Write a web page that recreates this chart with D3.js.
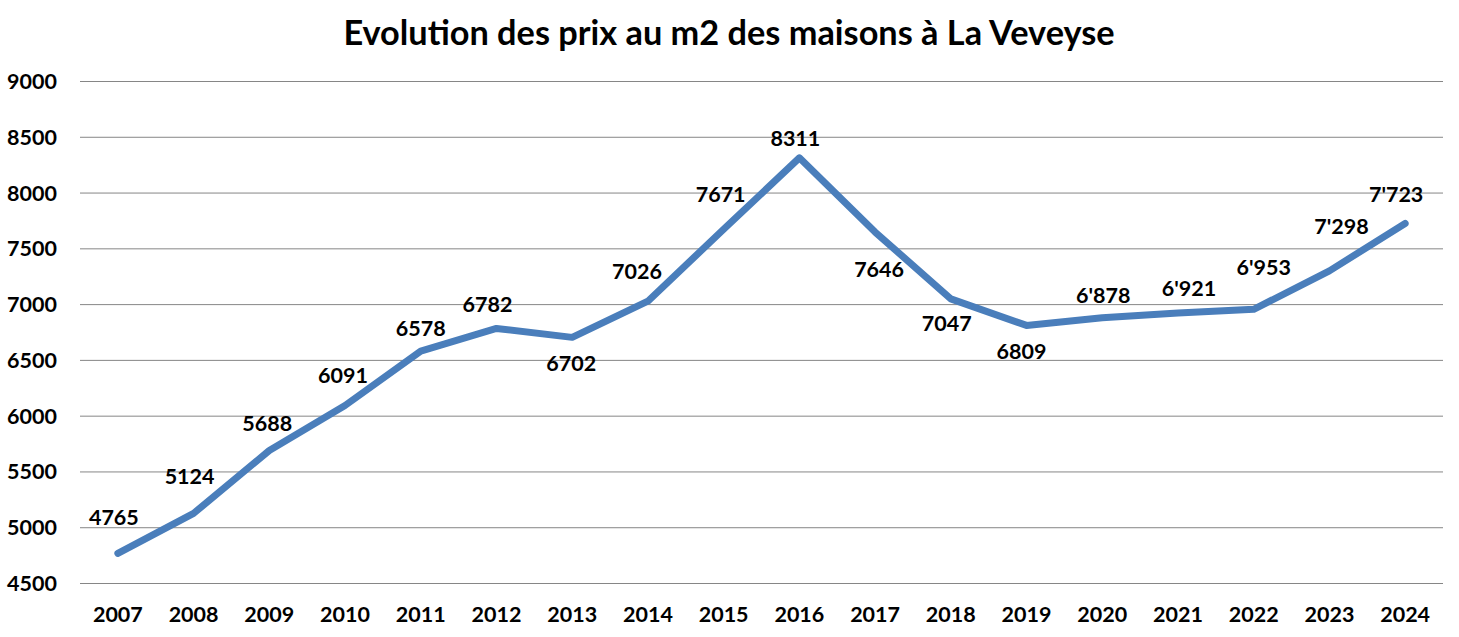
<!DOCTYPE html>
<html><head><meta charset="utf-8">
<script src="https://cdn.jsdelivr.net/npm/d3@7"></script>
<style>
html,body{margin:0;padding:0;background:#fff;}
svg text{font-family:Lato,"Open Sans",sans-serif;font-weight:bold;fill:#000;}
</style></head>
<body>
<svg id="chart" width="1459" height="637"></svg>
<script>
const years = ["2007","2008","2009","2010","2011","2012","2013","2014","2015","2016","2017","2018","2019","2020","2021","2022","2023","2024"];
const prices = [4765,5124,5688,6091,6578,6782,6702,7026,7671,8311,7646,7047,6809,6878,6921,6953,7298,7723];
const priceLabels = ["4765","5124","5688","6091","6578","6782","6702","7026","7671","8311","7646","7047","6809","6'878","6'921","6'953","7'298","7'723"];
const yTicks = [4500,5000,5500,6000,6500,7000,7500,8000,8500,9000];
const title = "Evolution des prix au m2 des maisons à La Veveyse";
// label offsets (layout only): [dx, dy] from point to label center
const labelOffsets = [[-4,-36],[-4,-37],[-2,-27],[-2,-30],[0,-23],[-9,-24],[-1,26],[-11,-30],[-3,-35],[-4,-19],[4,37],[-4,25],[-5,26],[1,-22],[11,-24],[10,-42],[12,-44],[-9,-29]];

const svg = d3.select("#chart");
const mLeft = 80, mRight = 1443, mTop = 81, mBottom = 583;
const x = d3.scaleBand().domain(years).range([mLeft, mRight]);
const y = d3.scaleLinear().domain([4500, 9000]).range([mBottom, mTop]);

svg.append("text").attr("x", 729).attr("y", 45).attr("text-anchor","middle")
  .style("font-size","34.3px").text(title);

const yAxis = svg.append("g").attr("transform",`translate(${mLeft},0)`)
  .call(d3.axisLeft(y).tickValues(yTicks).tickSize(-(mRight-mLeft)).tickPadding(23).tickFormat(d3.format("d")));
yAxis.select(".domain").remove();
yAxis.selectAll(".tick line").attr("stroke","#868686").attr("stroke-width",1);
yAxis.selectAll(".tick text").style("font-size","21.5px").attr("dy","0.35em");

const xAxis = svg.append("g").attr("transform",`translate(0,${mBottom})`)
  .call(d3.axisBottom(x).tickSize(0).tickPadding(24));
xAxis.select(".domain").remove();
xAxis.selectAll(".tick text").style("font-size","21.5px");

const line = d3.line().x((d,i)=>x(years[i])+x.bandwidth()/2).y(d=>y(d));
svg.append("path").datum(prices).attr("d", line)
  .attr("fill","none").attr("stroke","#4a7ebb").attr("stroke-width",7)
  .attr("stroke-linejoin","round").attr("stroke-linecap","round");

svg.append("g").selectAll("text").data(prices).join("text")
  .attr("x",(d,i)=>x(years[i])+x.bandwidth()/2+labelOffsets[i][0])
  .attr("y",(d,i)=>y(d)+labelOffsets[i][1])
  .attr("dy","0.35em").attr("text-anchor","middle")
  .style("font-size","21.5px").text((d,i)=>priceLabels[i]);
</script>
</body></html>
